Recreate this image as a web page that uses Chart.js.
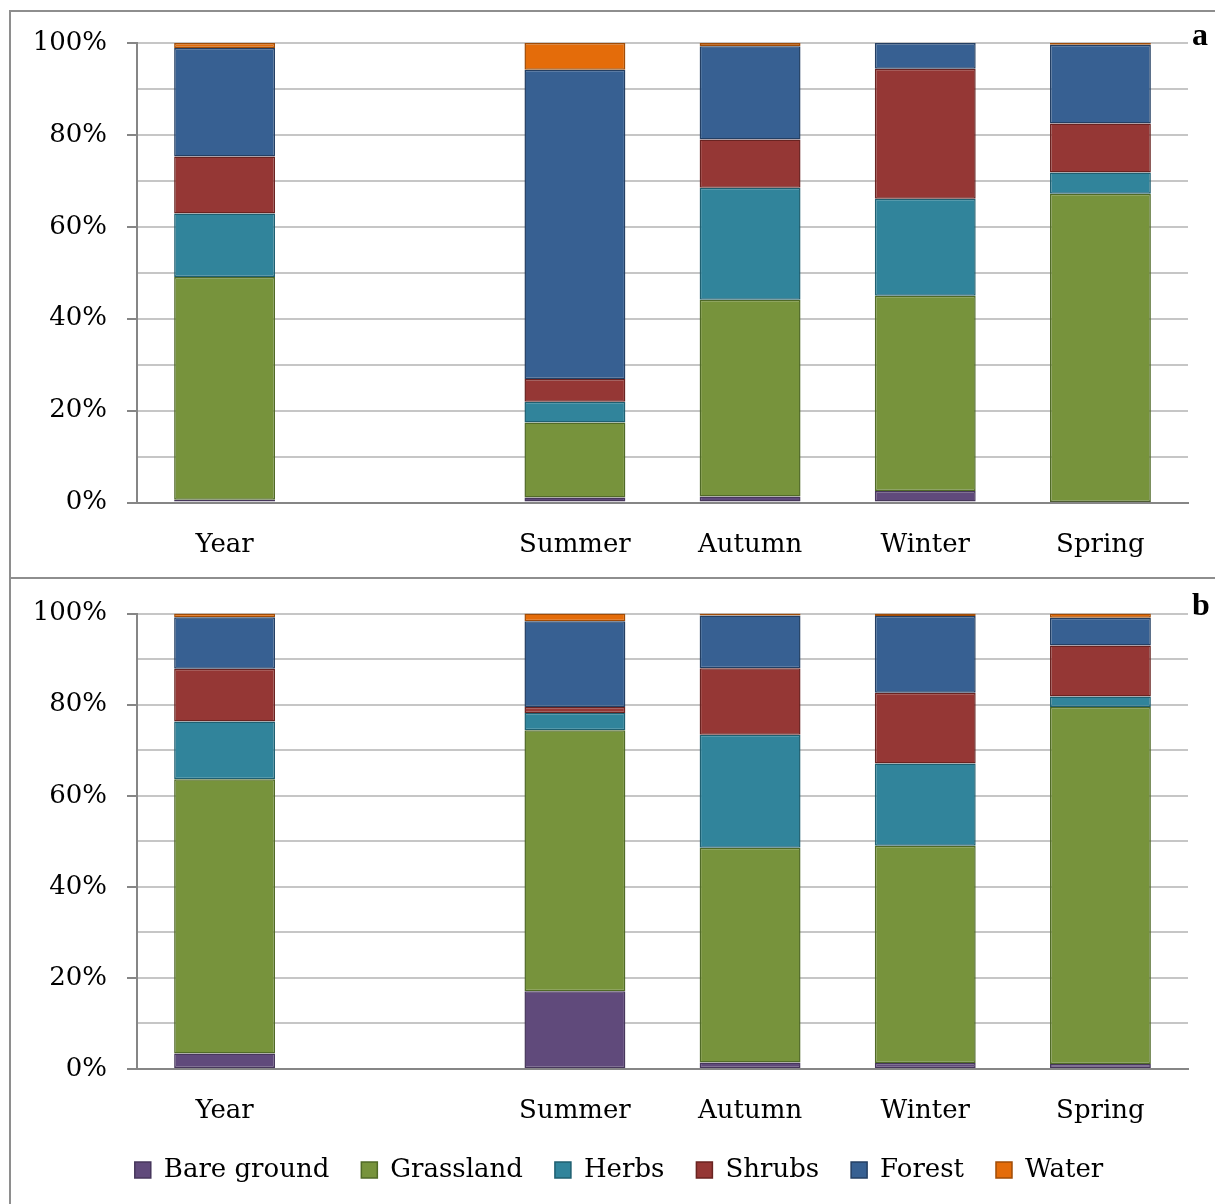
<!DOCTYPE html>
<html><head><meta charset="utf-8">
<script src="https://cdn.jsdelivr.net/npm/chart.js@4/dist/chart.umd.min.js"></script>
<style>
html,body{margin:0;padding:0;background:#fff;}
body{width:1215px;height:1204px;position:relative;overflow:hidden;}
.vline{position:absolute;left:9px;top:10px;width:2px;height:1200px;background:#8e8e8e;}
.hline{position:absolute;left:9px;width:1210px;height:2px;background:#8e8e8e;}
canvas{position:absolute;left:0;}
#ca{top:0;}
#cb{top:578px;}
.lab{position:absolute;left:1192px;font-family:"Liberation Serif",serif;font-weight:bold;font-size:32px;line-height:32px;color:#000;}
</style></head>
<body>
<div class="vline"></div>
<div class="hline" style="top:10px"></div>
<div class="hline" style="top:577px"></div>
<canvas id="ca" width="1215" height="578"></canvas>
<canvas id="cb" width="1215" height="626"></canvas>
<div class="lab" style="top:18px">a</div>
<div class="lab" style="top:588px">b</div>
<script>
const categories = ['Year', '', 'Summer', 'Autumn', 'Winter', 'Spring'];
const seriesNames = ['Bare ground', 'Grassland', 'Herbs', 'Shrubs', 'Forest', 'Water'];
const yTickStep = 10;
const yMax = 100;

// Panel a (percent)
const aBare   = [0.6, null, 1.1, 1.3, 2.5, 0.1];
const aGrass  = [48.5, null, 16.3, 42.8, 42.5, 67.1];
const aHerbs  = [13.8, null, 4.5, 24.4, 21.1, 4.6];
const aShrubs = [12.4, null, 5.0, 10.5, 28.3, 10.7];
const aForest = [23.6, null, 67.3, 20.3, 5.6, 17.1];
const aWater  = [1.1, null, 5.8, 0.7, 0, 0.4];

// Panel b (percent)
const bBare   = [3.4, null, 17.1, 1.4, 1.3, 1.1];
const bGrass  = [60.2, null, 57.3, 47.2, 47.7, 78.4];
const bHerbs  = [12.7, null, 3.8, 24.8, 18.1, 2.3];
const bShrubs = [11.6, null, 1.3, 14.6, 15.5, 11.2];
const bForest = [11.3, null, 18.8, 11.6, 16.9, 6.1];
const bWater  = [0.8, null, 1.7, 0.4, 0.5, 0.9];

const fillColors = ['#604A7B', '#77933C', '#31849B', '#953735', '#376092', '#E46C0A'];
const edgeColors = ['#47375c', '#506a27', '#1f5f70', '#692321', '#243f63', '#a04c07'];

const FONT = 'DejaVu Serif';

// shifts the bottom legend box to the right so it is centred like the original
const legendShift = {
  id: 'legendShift',
  afterLayout(chart) {
    if (chart.legend && chart.legend.options.display) {
      chart.legend.left += 25;
      chart.legend.right += 25;
    }
  }
};

function makeDatasets(series) {
  return series.map((vals, i) => ({
    label: seriesNames[i],
    data: vals,
    backgroundColor: fillColors[i],
    borderColor: edgeColors[i],
    borderWidth: 1.5,
    borderSkipped: false,
    categoryPercentage: 1,
    barPercentage: 0.576
  }));
}

function makeChart(id, series, withLegend, pad, xHeight) {
  return new Chart(document.getElementById(id), {
    type: 'bar',
    data: { labels: categories, datasets: makeDatasets(series) },
    plugins: [legendShift],
    options: {
      responsive: false,
      animation: false,
      layout: { padding: pad },
      plugins: {
        tooltip: { enabled: false },
        legend: {
          display: withLegend,
          position: 'bottom',
          labels: {
            font: { family: FONT, size: 26 },
            color: '#000',
            boxWidth: 16,
            boxHeight: 16,
            padding: 32
          }
        }
      },
      scales: {
        x: {
          stacked: true,
          grid: { display: false, drawTicks: false },
          border: { display: true, color: '#868686', width: 2 },
          ticks: { font: { family: FONT, size: 26 }, color: '#000', padding: 27, maxRotation: 0, autoSkip: false },
          afterFit: s => { s.height = xHeight; }
        },
        y: {
          stacked: true,
          min: 0,
          max: yMax,
          grid: {
            color: '#c6c6c6',
            lineWidth: 2,
            tickLength: 10,
            tickWidth: 2,
            tickColor: c => (c.tick && c.tick.value % 20 === 0) ? '#868686' : 'rgba(0,0,0,0)'
          },
          border: { display: true, color: '#868686', width: 2 },
          ticks: {
            stepSize: yTickStep,
            autoSkip: false,
            font: { family: FONT, size: 26 },
            color: '#000',
            padding: 20,
            callback: v => (v % 20 === 0) ? v + '%' : ''
          },
          afterFit: s => { s.width = 137; }
        }
      }
    }
  });
}

makeChart('ca', [aBare, aGrass, aHerbs, aShrubs, aForest, aWater], false,
  { top: 43, left: 0, right: 27, bottom: 0 }, 75.5);
makeChart('cb', [bBare, bGrass, bHerbs, bShrubs, bForest, bWater], true,
  { top: 32, left: 0, right: 27, bottom: 11 }, 56);
</script>
</body></html>
